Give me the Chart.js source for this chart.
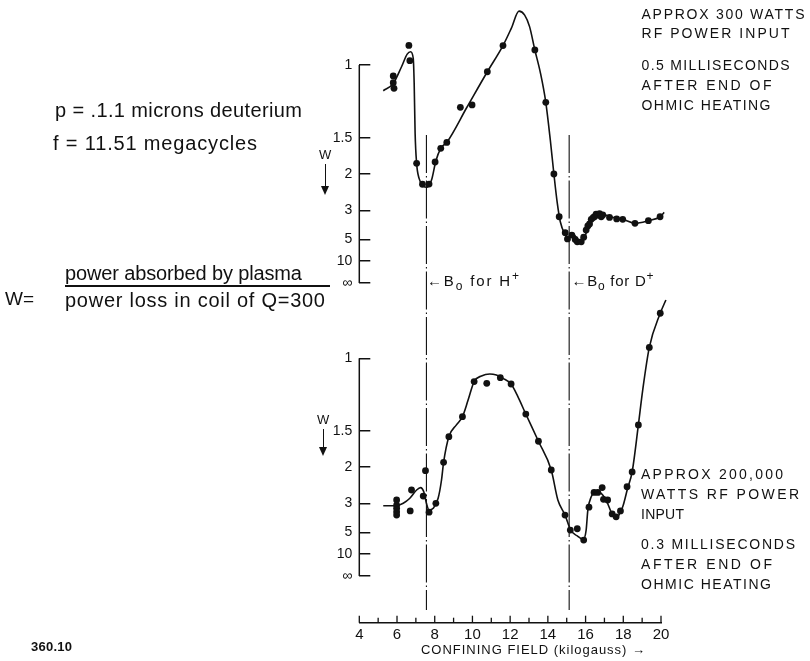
<!DOCTYPE html>
<html>
<head>
<meta charset="utf-8">
<script src="https://cdn.jsdelivr.net/npm/chart.js@4.4.1/dist/chart.umd.min.js"></script>
<style>
body { margin: 0; background: #fff; }
#wrap { position: relative; width: 810px; height: 661px; overflow: hidden; }
canvas { position: absolute; left: 0; top: 0; }
.t { position: absolute; white-space: nowrap; font-family: "Liberation Sans", Arial, sans-serif; color: #111; line-height: 1.117; }
.t sub, .t sup { line-height: 0; font-size: 80%; }
.bar { position: absolute; background: #111; }
.arrow { position: absolute; width: 0; height: 0; border-left: 4px solid transparent; border-right: 4px solid transparent; border-top: 9px solid #111; }
</style>
</head>
<body>
<div id="wrap">
  <canvas id="chart" width="810" height="661"></canvas>
</div>
<script>
// x = confining field (kilogauss), y = 1/W (the W axis is drawn on a 1/W scale)
const xLabels = [4, 6, 8, 10, 12, 14, 16, 18, 20];
const wTicks = [1, 1.5, 2, 3, 5, 10, Infinity];
const wTickLabels = ['1', '1.5', '2', '3', '5', '10', '\u221e'];

// top: approx 300 watts, 0.5 ms
const topPtX = [5.8, 5.8, 5.84, 6.63, 6.68, 7.04, 7.35, 7.7, 8.02, 8.32, 8.64, 9.36, 9.98, 10.79, 11.62, 12.47, 13.31, 13.89, 14.32, 14.6, 14.92, 15.04, 15.27, 15.45, 15.56, 15.77, 15.9, 16.03, 16.12, 16.21, 16.3, 16.4, 16.47, 16.56, 16.65, 16.74, 16.83, 16.91, 17.27, 17.65, 17.97, 18.62, 19.33, 19.95];
const topPtInvW = [0.95, 0.919, 0.893, 1.09, 1.02, 0.549, 0.453, 0.454, 0.555, 0.618, 0.645, 0.806, 0.817, 0.969, 1.089, 1.245, 1.069, 0.829, 0.5, 0.304, 0.231, 0.202, 0.22, 0.2, 0.189, 0.189, 0.21, 0.243, 0.262, 0.271, 0.292, 0.3, 0.304, 0.316, 0.312, 0.318, 0.304, 0.312, 0.301, 0.294, 0.292, 0.274, 0.286, 0.304];
const topCurveX = [5.27, 5.8, 6.24, 6.54, 6.72, 6.86, 6.91, 6.96, 7.04, 7.17, 7.39, 7.6, 7.83, 8.06, 8.32, 8.64, 9.7, 10.79, 11.62, 12.06, 12.47, 12.77, 13.03, 13.31, 13.61, 13.89, 14.13, 14.32, 14.5, 14.66, 14.88, 15.11, 15.32, 15.54, 15.77, 15.99, 16.21, 16.47, 16.83, 17.27, 17.97, 18.62, 19.33, 19.95, 20.17];
const topCurveInvW = [0.882, 0.915, 0.992, 1.05, 1.061, 1.031, 0.916, 0.687, 0.549, 0.48, 0.445, 0.439, 0.472, 0.56, 0.618, 0.645, 0.805, 0.969, 1.089, 1.168, 1.247, 1.229, 1.176, 1.069, 0.962, 0.829, 0.656, 0.5, 0.366, 0.281, 0.228, 0.21, 0.228, 0.205, 0.194, 0.22, 0.274, 0.307, 0.317, 0.305, 0.292, 0.274, 0.286, 0.304, 0.324];

// bottom: approx 200,000 watts, 0.3 ms
const botPtX = [5.98, 5.98, 5.98, 5.98, 5.98, 6.7, 6.77, 7.39, 7.51, 7.7, 8.06, 8.47, 8.75, 9.47, 10.09, 10.76, 11.48, 12.05, 12.83, 13.5, 14.18, 14.91, 15.19, 15.56, 15.9, 16.18, 16.45, 16.65, 16.88, 16.95, 17.17, 17.41, 17.62, 17.85, 18.2, 18.47, 18.8, 19.38, 19.96];
const botPtInvW = [0.349, 0.326, 0.311, 0.295, 0.28, 0.299, 0.395, 0.367, 0.484, 0.293, 0.334, 0.522, 0.64, 0.732, 0.893, 0.885, 0.911, 0.882, 0.744, 0.619, 0.487, 0.28, 0.211, 0.217, 0.165, 0.316, 0.384, 0.384, 0.406, 0.352, 0.349, 0.285, 0.272, 0.299, 0.41, 0.478, 0.694, 1.05, 1.207];
const botCurveX = [5.27, 5.98, 6.33, 6.68, 7.04, 7.25, 7.42, 7.56, 7.7, 7.92, 8.18, 8.36, 8.47, 8.75, 9.15, 9.47, 9.77, 10.09, 10.48, 10.92, 11.27, 11.62, 12.05, 12.41, 12.83, 13.5, 14.18, 14.53, 14.91, 15.21, 15.56, 15.87, 16.03, 16.12, 16.3, 16.56, 16.83, 17.09, 17.41, 17.65, 17.97, 18.23, 18.47, 18.8, 19.03, 19.38, 19.96, 20.26];
const botCurveInvW = [0.323, 0.323, 0.334, 0.357, 0.395, 0.406, 0.387, 0.334, 0.303, 0.311, 0.357, 0.441, 0.522, 0.64, 0.694, 0.732, 0.808, 0.893, 0.919, 0.928, 0.923, 0.908, 0.882, 0.824, 0.744, 0.619, 0.487, 0.349, 0.28, 0.211, 0.184, 0.168, 0.211, 0.303, 0.364, 0.387, 0.38, 0.349, 0.285, 0.27, 0.318, 0.403, 0.478, 0.694, 0.854, 1.05, 1.207, 1.268];

// resonance fields B0 for H+ and D+
const resonanceX = [7.56, 15.13];
const resonanceSpan = [2.026, -0.156];

const ink = '#111';
const family = '"Liberation Sans", Arial, sans-serif';

const pts = (xs, ys) => xs.map((x, i) => ({ x: x, y: ys[i] }));

const curve = (xs, ys, axis) => ({
  data: pts(xs, ys), yAxisID: axis, borderColor: ink, borderWidth: 1.6,
  pointRadius: 0, cubicInterpolationMode: 'monotone', clip: false
});
const dots = (xs, ys, axis) => ({
  data: pts(xs, ys), yAxisID: axis, showLine: false, pointRadius: 3.4,
  pointBackgroundColor: ink, pointBorderWidth: 0, clip: false
});
const marker = (x) => ({
  data: resonanceSpan.map(v => ({ x: x, y: v })), yAxisID: 'yBot', borderColor: ink,
  borderWidth: 1.1, borderDash: [38, 3, 1.5, 3], pointRadius: 0, clip: false
});

const wScale = (weight, min, max) => ({
  type: 'linear', position: 'left', stack: 'w', stackWeight: weight,
  min: min, max: max, bounds: 'data',
  border: { display: false },
  grid: { drawOnChartArea: false, drawTicks: true, tickLength: -11, color: ink, lineWidth: 1.5 },
  ticks: {
    autoSkip: false, padding: 18, color: ink, font: { family: family, size: 14 },
    callback: (v, i) => wTickLabels[i]
  },
  afterBuildTicks: s => { s.ticks = wTicks.map(w => ({ value: 1 / w })); },
  afterFit: s => { s.width = 60; }
});

// W axis runs only from W = 1 down to W = infinity; x ticks point upward
const axisMarks = {
  id: 'axisMarks',
  afterDraw(chart) {
    const ctx = chart.ctx;
    ctx.save();
    ctx.strokeStyle = ink;
    ctx.lineWidth = 1.5;
    ['yTop', 'yBot'].forEach(id => {
      const s = chart.scales[id];
      ctx.beginPath();
      ctx.moveTo(s.right, s.getPixelForValue(1));
      ctx.lineTo(s.right, s.getPixelForValue(0));
      ctx.stroke();
    });
    const sx = chart.scales.x;
    ctx.lineWidth = 1.3;
    for (let v = 4; v <= 20; v++) {
      const px = sx.getPixelForValue(v);
      ctx.beginPath();
      ctx.moveTo(px, sx.top);
      ctx.lineTo(px, sx.top - (v % 2 === 0 ? 7 : 5));
      ctx.stroke();
    }
    ctx.restore();
  }
};

new Chart(document.getElementById('chart'), {
  type: 'line',
  data: {
    datasets: [
      curve(topCurveX, topCurveInvW, 'yTop'),
      dots(topPtX, topPtInvW, 'yTop'),
      curve(botCurveX, botCurveInvW, 'yBot'),
      dots(botPtX, botPtInvW, 'yBot'),
      marker(resonanceX[0]),
      marker(resonanceX[1])
    ]
  },
  options: {
    responsive: false,
    animation: false,
    layout: { padding: { left: 299.3, right: 149, top: 30, bottom: 0 } },
    plugins: { legend: { display: false }, tooltip: { enabled: false } },
    scales: {
      x: {
        type: 'linear', position: 'bottom', min: 4, max: 20,
        border: { display: true, color: ink, width: 1.5 },
        grid: { drawOnChartArea: false, drawTicks: false },
        ticks: {
          stepSize: 1, autoSkip: false, maxRotation: 0, padding: 3, color: ink,
          font: { family: family, size: 15 },
          callback: v => xLabels.includes(v) ? String(v) : ''
        },
        afterFit: s => { s.height = 38.3; }
      },
      // left stacked axes are placed in reverse order, so the lower panel comes first
      yBot: wScale(302.7, -0.2145, 1.1759),
      yTop: wScale(290, -0.1697, 1.1606)
    }
  },
  plugins: [axisMarks]
});

// annotation text: [html, left, baseline, size, target width, bold]
const notes = [
  ['APPROX 300 WATTS', 641.5, 20, 14, 163],
  ['RF POWER INPUT', 641.5, 39, 14, 148],
  ['0.5 MILLISECONDS', 641.5, 71, 14, 148],
  ['AFTER END OF', 641.5, 91, 14, 130],
  ['OHMIC HEATING', 641.5, 111, 14, 129],
  ['APPROX 200,000', 641, 480, 14, 142],
  ['WATTS RF POWER', 641, 500, 14, 158],
  ['INPUT', 641, 520, 14, 43],
  ['0.3 MILLISECONDS', 641, 550, 14, 154],
  ['AFTER END OF', 641, 570, 14, 131],
  ['OHMIC HEATING', 641, 590, 14, 130],
  ['p = .1.1 microns deuterium', 55, 117, 20, 247],
  ['f = 11.51 megacycles', 53, 150, 20, 204],
  ['W=', 5, 305, 19, 0],
  ['power absorbed by plasma', 65, 280, 20, 237],
  ['power loss in coil of Q=300', 65, 307, 20, 260],
  ['\u2190B<sub>o</sub> for H<sup>+</sup>', 427, 287, 15, 92],
  ['\u2190B<sub>o</sub> for D<sup>+</sup>', 571.5, 287, 15, 82],
  ['W', 319, 160, 13, 0],
  ['W', 317, 425, 13, 0],
  ['CONFINING FIELD (kilogauss) \u2192', 421, 655, 13, 224],
  ['360.10', 31, 652, 13, 41, true]
];

const wrap = document.getElementById('wrap');
notes.forEach(([html, x, base, size, w, bold]) => {
  const el = document.createElement('div');
  el.className = 't';
  el.innerHTML = html;
  el.style.fontSize = size + 'px';
  el.style.left = x + 'px';
  el.style.top = (base - 0.905 * size) + 'px';
  if (bold) el.style.fontWeight = 'bold';
  wrap.appendChild(el);
  if (w) {
    const natural = el.getBoundingClientRect().width;
    const n = el.textContent.length - 1;
    el.style.letterSpacing = ((w - natural) / n) + 'px';
  }
});

// fraction bar and the two W arrows
const addBox = (cls, x, y, w, h) => {
  const el = document.createElement('div');
  el.className = cls;
  el.style.left = x + 'px';
  el.style.top = y + 'px';
  if (w) el.style.width = w + 'px';
  if (h) el.style.height = h + 'px';
  wrap.appendChild(el);
};
addBox('bar', 65, 285, 265, 1.5);
addBox('bar', 324.5, 164, 1.3, 24);
addBox('arrow', 321, 186);
addBox('bar', 322.5, 429, 1.3, 20);
addBox('arrow', 319, 447);
</script>
</body>
</html>
